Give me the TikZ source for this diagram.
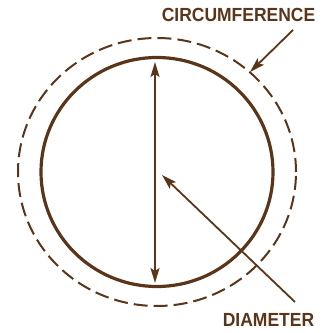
\documentclass[tikz,border=0pt]{standalone}
\usepackage{fontspec}
\newfontfamily\lblfont[FakeStretch=0.92]{Liberation Sans}
\usepackage{tikz}
\usetikzlibrary{arrows.meta,positioning}
\definecolor{ink}{HTML}{5A3519}
\tikzset{
  lbl/.style={font=\lblfont\bfseries\fontsize{19}{19}\selectfont, text=ink, inner sep=0pt},
  rim/.style={draw=ink, line width=3.2pt},
  halo/.style={draw=ink, line width=2pt, dash pattern=on 14pt off 6pt},
  arr/.style={-{Stealth[length=15pt, width=9pt, inset=3pt]}, draw=ink, line width=1.8pt},
  darr/.style={{Stealth[length=15pt, width=9pt, inset=3pt]}-{Stealth[length=15pt, width=9pt, inset=3pt]}, draw=ink, line width=1.8pt}
}
\begin{document}
\begin{tikzpicture}[x=1pt, y=1pt]
  \useasboundingbox (0,0) rectangle (325,333);
  \coordinate (c) at (157,161);
  \draw[halo] (c) ellipse [x radius=139, y radius=134];
  \draw[rim] (c) ellipse [x radius=116, y radius=114.5];
  \node[lbl] (circ) at (238.5,318) {CIRCUMFERENCE};
  \node[lbl] (diam) at (268.5,13) {DIAMETER};
  \coordinate (top) at (155,271);
  \coordinate (bot) at (155,50);
  \coordinate (cs) at (293,303);
  \coordinate (ct) at (250,261);
  \coordinate (ds) at (295,31);
  \coordinate (dt) at (162,158);
  \draw[darr] (top) -- (bot);
  \draw[arr] (cs) -- (ct);
  \draw[arr] (ds) -- (dt);
\end{tikzpicture}
\end{document}
